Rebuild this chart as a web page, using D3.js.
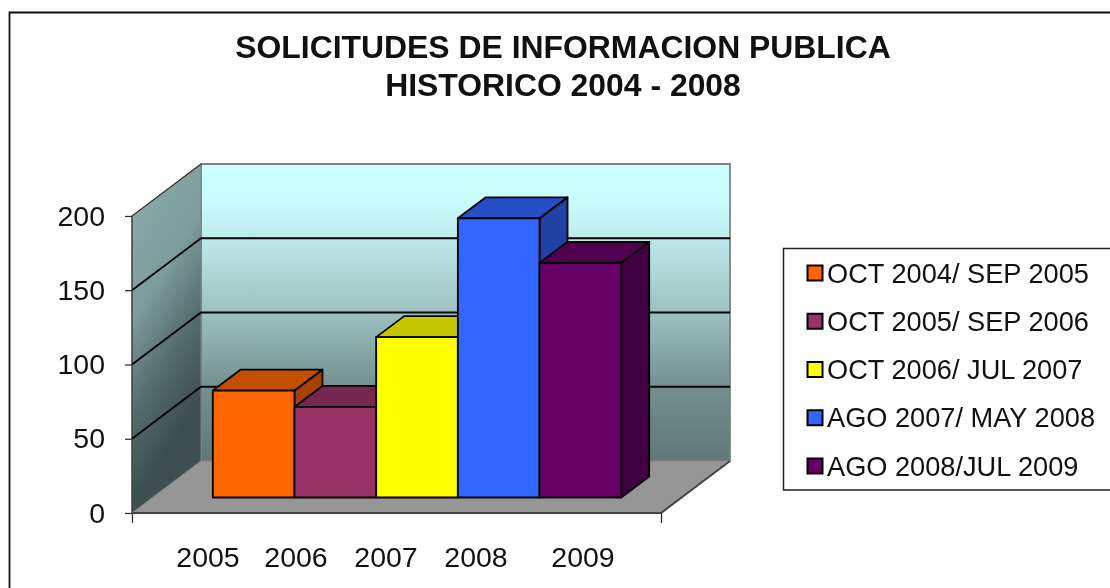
<!DOCTYPE html>
<html>
<head>
<meta charset="utf-8">
<script src="https://cdn.jsdelivr.net/npm/d3@7"></script>
<style>
  html, body { margin: 0; padding: 0; background: #fff; overflow: hidden; }
  svg { display: block; filter: blur(0.4px); }
  text { font-family: "Liberation Sans", Arial, sans-serif; fill: #111; }
</style>
</head>
<body>
<div id="chart"></div>
<script>
const titleLines = ['SOLICITUDES DE INFORMACION PUBLICA', 'HISTORICO 2004 - 2008'];
const categories = ['2005', '2006', '2007', '2008', '2009'];
const values = [72, 61, 108, 188, 158];
const seriesNames = [
  'OCT 2004/ SEP 2005',
  'OCT 2005/ SEP 2006',
  'OCT 2006/ JUL 2007',
  'AGO 2007/ MAY 2008',
  'AGO 2008/JUL 2009'
];
const colors = ['#ff6600', '#993366', '#ffff00', '#3366ff', '#660066'];
const yTicks = [0, 50, 100, 150, 200];

const width = 1110, height = 588;

// plot box, front plane and how far the back wall is pushed
const plotLeft = 132, plotRight = 661, plotBottom = 513, plotTop = 216;
const wallDx = 69, wallDy = -52;
// bars stand part way into the floor
const barDy = -15.5;
const depthDx = 28, depthDy = -21;

const svg = d3.select('#chart').append('svg')
  .attr('width', width)
  .attr('height', height);

const y = d3.scaleLinear().domain([0, 200]).range([plotBottom, plotTop]);
const x = d3.scaleBand().domain(categories).range([212.8, 621.2]);
const labelX = d3.scaleOrdinal().domain(categories).range([208, 296, 386, 476, 583]);
const poly = pts => pts.map(p => p.join(',')).join(' ');

// chart frame, only top and left show in the crop
svg.append('path')
  .attr('d', `M9.5,${height}V12.5H${width}`)
  .attr('fill', 'none')
  .attr('stroke', '#111')
  .attr('stroke-width', 1.8);

// gradients
const defs = svg.append('defs');

const backGrad = defs.append('linearGradient')
  .attr('id', 'back')
  .attr('x1', 0).attr('y1', 0).attr('x2', 0).attr('y2', 1);
[[0, '#ccffff'], [0.12, '#c9fdfd'], [0.25, '#bdeae9'], [0.5, '#9cc1bf'], [0.75, '#73908f'], [1, '#5f7777']]
  .forEach(s => backGrad.append('stop').attr('offset', s[0]).attr('stop-color', s[1]));

const sideGrad = defs.append('linearGradient')
  .attr('id', 'side')
  .attr('x1', 0).attr('y1', 0.1).attr('x2', 0.25).attr('y2', 0.9);
[[0, '#8aabab'], [0.4, '#7d9c9c'], [0.7, '#566e6e'], [1, '#3d4f4f']]
  .forEach(s => sideGrad.append('stop').attr('offset', s[0]).attr('stop-color', s[1]));

// walls and floor
svg.append('polygon')
  .attr('points', poly([[plotLeft + wallDx, plotTop + wallDy], [plotRight + wallDx, plotTop + wallDy], [plotRight + wallDx, plotBottom + wallDy], [plotLeft + wallDx, plotBottom + wallDy]]))
  .attr('fill', 'url(#back)')
  .attr('stroke', '#808080')
  .attr('stroke-width', 1.8);

svg.append('polygon')
  .attr('points', poly([[plotLeft, plotTop], [plotLeft + wallDx, plotTop + wallDy], [plotLeft + wallDx, plotBottom + wallDy], [plotLeft, plotBottom]]))
  .attr('fill', 'url(#side)')
  .attr('stroke', '#808080')
  .attr('stroke-width', 1);

svg.append('polygon')
  .attr('points', poly([[plotLeft, plotBottom], [plotRight, plotBottom], [plotRight + wallDx, plotBottom + wallDy], [plotLeft + wallDx, plotBottom + wallDy]]))
  .attr('fill', '#969696')
  .attr('stroke', '#808080')
  .attr('stroke-width', 1);

// gridlines run along the side wall then across the back
svg.append('g').selectAll('path')
  .data(yTicks.filter(d => d > 0 && d < 200))
  .enter().append('path')
    .attr('d', d => `M${plotLeft},${y(d)}L${plotLeft + wallDx},${y(d) + wallDy}H${plotRight + wallDx}`)
    .attr('fill', 'none')
    .attr('stroke', '#000')
    .attr('stroke-width', 1.8);

svg.append('path')
  .attr('d', `M${plotLeft},${plotBottom}V${plotTop}L${plotLeft + wallDx},${plotTop + wallDy}`)
  .attr('fill', 'none')
  .attr('stroke', '#333')
  .attr('stroke-width', 1.2);

svg.append('path')
  .attr('d', `M${plotLeft},${plotBottom}H${plotRight}L${plotRight + wallDx},${plotBottom + wallDy}`)
  .attr('fill', 'none')
  .attr('stroke', '#444')
  .attr('stroke-width', 2);

// bars, left to right so each front covers what sits behind it
const bars = svg.append('g').selectAll('g')
  .data(categories.map((c, i) => ({ cat: c, value: values[i], color: colors[i] })))
  .enter().append('g')
    .attr('stroke', '#000')
    .attr('stroke-width', 1.8)
    .attr('stroke-linejoin', 'round');

bars.append('polygon') // right side
  .attr('points', d => {
    const xr = x(d.cat) + x.bandwidth(), yt = y(d.value) + barDy, yb = y(0) + barDy;
    return poly([[xr, yt], [xr + depthDx, yt + depthDy], [xr + depthDx, yb + depthDy], [xr, yb]]);
  })
  .attr('fill', d => d3.color(d.color).darker(1.25));

bars.append('polygon') // top
  .attr('points', d => {
    const xl = x(d.cat), xr = xl + x.bandwidth(), yt = y(d.value) + barDy;
    return poly([[xl, yt], [xr, yt], [xr + depthDx, yt + depthDy], [xl + depthDx, yt + depthDy]]);
  })
  .attr('fill', d => d3.color(d.color).darker(0.73));

bars.append('rect') // front
  .attr('x', d => x(d.cat))
  .attr('y', d => y(d.value) + barDy)
  .attr('width', x.bandwidth())
  .attr('height', d => y(0) - y(d.value))
  .attr('fill', d => d.color);

// axes
const yAxis = d3.axisLeft(y).tickValues(yTicks).tickSize(7).tickPadding(20);
const gy = svg.append('g').attr('transform', `translate(${plotLeft},0)`).call(yAxis);
gy.select('.domain').remove();
gy.selectAll('line').attr('stroke', '#333').attr('stroke-width', 1.3);
gy.selectAll('text').attr('font-size', 28.5).attr('fill', '#111');

const xTickScale = d3.scaleLinear().domain([0, 1]).range([plotLeft, plotRight]);
const gx = svg.append('g')
  .attr('transform', `translate(0,${plotBottom})`)
  .call(d3.axisBottom(xTickScale).tickValues([0, 1]).tickSize(10).tickFormat(''));
gx.select('.domain').remove();
gx.selectAll('line').attr('stroke', '#333').attr('stroke-width', 1.3);

svg.append('g').selectAll('text')
  .data(categories)
  .enter().append('text')
    .attr('x', d => labelX(d))
    .attr('y', 567)
    .attr('text-anchor', 'middle')
    .attr('font-size', 28.5)
    .text(d => d);

// title
svg.append('g').selectAll('text')
  .data(titleLines)
  .enter().append('text')
    .attr('x', 563)
    .attr('y', (d, i) => 58 + i * 38)
    .attr('text-anchor', 'middle')
    .attr('font-size', 31.9)
    .attr('font-weight', 'bold')
    .text(d => d);

// legend
svg.append('path')
  .attr('d', `M${width},248.5H783.5V490H${width}`)
  .attr('fill', '#fff')
  .attr('stroke', '#222')
  .attr('stroke-width', 1.5);

const legendY = d3.scalePoint().domain(seriesNames).range([273, 466]);
const legend = svg.append('g').selectAll('g')
  .data(seriesNames)
  .enter().append('g')
    .attr('transform', d => `translate(0,${legendY(d)})`);

legend.append('rect')
  .attr('x', 807.5)
  .attr('y', -7.5)
  .attr('width', 15)
  .attr('height', 15)
  .attr('fill', (d, i) => colors[i])
  .attr('stroke', '#000')
  .attr('stroke-width', 2);

legend.append('text')
  .attr('x', 827)
  .attr('y', 9.5)
  .attr('font-size', 27.2)
  .text(d => d);
</script>
</body>
</html>
